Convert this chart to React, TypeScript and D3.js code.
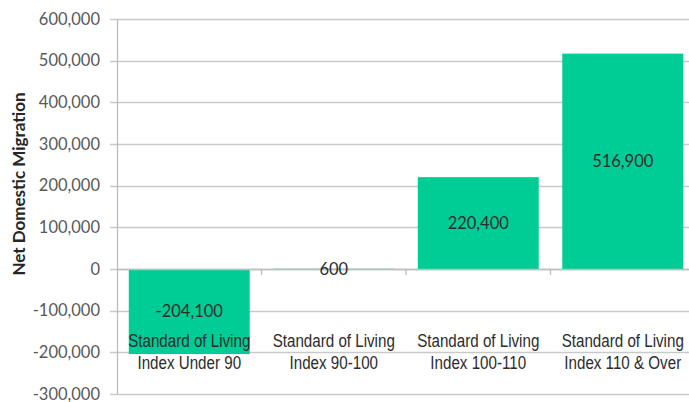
import React from "react";
import * as d3 from "d3";

// Net domestic migration by standard-of-living index band
const categories = ["Under 90", "90-100", "100-110", "110 & Over"];
const labelLine1 = ["Standard of Living", "Standard of Living", "Standard of Living", "Standard of Living"];
const labelLine2 = ["Index Under 90", "Index 90-100", "Index 100-110", "Index 110 & Over"];
const migration = [-204100, 600, 220400, 516900];
const yTicks = [-300000, -200000, -100000, 0, 100000, 200000, 300000, 400000, 500000, 600000];

const W = 689;
const H = 402;
const plotLeft = 117;
const plotRight = 695;
const plotTop = 19;
const plotBottom = 394;

const numFont = "Lato, 'Open Sans', sans-serif";
const catFont = "'Liberation Sans', Arial, sans-serif";

export default function App() {
  const y = d3.scaleLinear().domain([-300000, 600000]).range([plotBottom, plotTop]);
  const x = d3
    .scaleBand<string>()
    .domain(categories)
    .range([plotLeft, plotRight])
    .paddingInner(0.163)
    .paddingOuter(0.0815);
  const step = x.step();
  const fmt = d3.formatLocale({ decimal: ".", thousands: ",", grouping: [3], currency: ["", ""], minus: "-" }).format(",");
  const zeroY = y(0);
  const labelY = y(-200000);

  return (
    <svg
      width={W}
      height={H}
      style={{ position: "absolute", left: 0, top: 0, background: "#fff" }}
    >
      {/* gridlines */}
      {yTicks.map((t) => (
        <line
          key={"g" + t}
          x1={plotLeft - 7}
          x2={plotRight}
          y1={Math.round(y(t)) + 0.5}
          y2={Math.round(y(t)) + 0.5}
          stroke="#c9c9c9"
          strokeWidth={1.3}
        />
      ))}
      {/* y axis line */}
      <line
        x1={plotLeft + 0.5}
        x2={plotLeft + 0.5}
        y1={plotTop}
        y2={plotBottom}
        stroke="#bdbdbd"
        strokeWidth={1.3}
      />
      {/* y tick labels */}
      {yTicks.map((t) => (
        <text
          key={"t" + t}
          x={100}
          y={y(t)}
          dy="0.35em"
          textAnchor="end"
          fontFamily={numFont}
          fontSize={16.5}
          fill="#595959"
        >
          {fmt(t)}
        </text>
      ))}
      {/* axis title */}
      <text
        transform={`translate(25, ${184}) rotate(-90)`}
        textAnchor="middle"
        fontFamily={numFont}
        fontWeight="bold"
        fontSize={17}
        fill="#262626"
      >
        Net Domestic Migration
      </text>
      {/* bars */}
      {categories.map((c, i) => {
        const v = migration[i];
        const y0 = y(Math.max(0, v));
        const y1 = y(Math.min(0, v));
        return (
          <rect
            key={"b" + c}
            x={x(c)}
            y={y0}
            width={x.bandwidth()}
            height={Math.max(0, y1 - y0)}
            fill="#00cc96"
          />
        );
      })}
      {/* zero line with category ticks */}
      <line x1={plotLeft} x2={plotRight} y1={zeroY + 0.5} y2={zeroY + 0.5} stroke="#bdbdbd" strokeWidth={1.3} />
      {d3.range(1, categories.length).map((i) => (
        <line
          key={"ct" + i}
          x1={plotLeft + i * step}
          x2={plotLeft + i * step}
          y1={zeroY}
          y2={zeroY + 6}
          stroke="#bdbdbd"
          strokeWidth={1.3}
        />
      ))}
      {/* value labels */}
      {categories.map((c, i) => {
        const v = migration[i];
        const mid = (y(v) + y(0)) / 2;
        return (
          <text
            key={"v" + c}
            x={(x(c) as number) + x.bandwidth() / 2}
            y={mid}
            dy="0.35em"
            textAnchor="middle"
            fontFamily={numFont}
            fontSize={16.5}
            fill="#2b2b2b"
          >
            {fmt(v)}
          </text>
        );
      })}
      {/* category labels, horizontally condensed */}
      {categories.map((c, i) => {
        const cx = (x(c) as number) + x.bandwidth() / 2;
        return (
          <g key={"c" + c} transform={`translate(${cx}, 0) scale(0.82, 1)`}>
            <text textAnchor="middle" fontFamily={catFont} fontSize={18.5} fill="#2b2b2b">
              <tspan x={0} y={labelY - 5}>
                {labelLine1[i]}
              </tspan>
              <tspan x={0} y={labelY + 17}>
                {labelLine2[i]}
              </tspan>
            </text>
          </g>
        );
      })}
    </svg>
  );
}
